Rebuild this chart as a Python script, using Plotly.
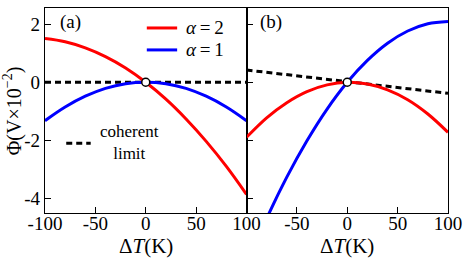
import plotly.graph_objects as go

# ---- data ----
dT = [-100, -80, -60, -40, -20, 0, 20, 40, 60, 80, 100]

# panel (a)
a_alpha2 = [1.50, 1.39, 1.18, 0.88, 0.49, 0.0, -0.58, -1.26, -2.03, -2.89, -3.85]
a_alpha1 = [-1.32, -0.85, -0.48, -0.21, -0.05, 0.0, -0.05, -0.21, -0.48, -0.85, -1.32]
a_coherent = [0.0, 0.0, 0.0, 0.0, 0.0, 0.0, 0.0, 0.0, 0.0, 0.0, 0.0]

# panel (b)
b_alpha2 = [-1.89, -1.22, -0.70, -0.32, -0.09, 0.0, -0.06, -0.26, -0.60, -1.09, -1.72]
b_alpha1 = [-6.27, -4.68, -3.26, -2.01, -0.92, 0.0, 0.75, 1.34, 1.76, 2.01, 2.09]
b_coherent = [0.42, 0.34, 0.25, 0.17, 0.08, 0.0, -0.08, -0.15, -0.23, -0.30, -0.38]

origin_x = [0]
origin_y = [0]

x_ticks = [-100, -50, 0, 50, 100]
x_ticktext_a = ["-100", "-50", "0", "50", "100"]
x_ticks_b = [-50, 0, 50, 100]
x_ticktext_b = ["-50", "0", "50", "100"]
y_ticks = [-4, -2, 0, 2]
y_ticktext = ["-4", "-2", "0", "2"]

legend_names = ["<i>α</i>\u2009=\u20092", "<i>α</i>\u2009=\u20091"]
coherent_label = "coherent<br>limit"

RED = "#ff0000"
BLUE = "#0000ff"
FONT = "Liberation Serif"

fig = go.Figure()

def add_panel(xa, ya, red, blue, coh):
    fig.add_trace(go.Scatter(x=dT, y=coh, mode="lines", xaxis=xa, yaxis=ya,
                             line=dict(color="black", width=3, dash="6px,4px"),
                             name="coherent limit", showlegend=False))
    fig.add_trace(go.Scatter(x=dT, y=blue, mode="lines", xaxis=xa, yaxis=ya,
                             line=dict(color=BLUE, width=3, shape="spline"),
                             name=legend_names[1], showlegend=False))
    fig.add_trace(go.Scatter(x=dT, y=red, mode="lines", xaxis=xa, yaxis=ya,
                             line=dict(color=RED, width=3, shape="spline"),
                             name=legend_names[0], showlegend=False))
    fig.add_trace(go.Scatter(x=origin_x, y=origin_y, mode="markers", xaxis=xa, yaxis=ya,
                             marker=dict(color="white", size=8,
                                         line=dict(color="black", width=1.5)),
                             showlegend=False, cliponaxis=False))

add_panel("x", "y", a_alpha2, a_alpha1, a_coherent)
add_panel("x2", "y2", b_alpha2, b_alpha1, b_coherent)

axis_common = dict(showline=True, linecolor="black", linewidth=1.3, mirror=True,
                   ticks="inside", ticklen=6, tickwidth=1.3, tickcolor="black",
                   showgrid=False, zeroline=False,
                   tickfont=dict(family=FONT, size=19, color="black"))

def txt(text, x, y, size=19, xanchor="left", **kw):
    return dict(text=text, xref="paper", yref="paper", x=x, y=y, xanchor=xanchor,
                yanchor="middle", showarrow=False,
                font=dict(family=FONT, size=size, color="black"), **kw)

def sample(x0, x1, y, color, dash="solid"):
    return dict(type="line", xref="paper", yref="paper", x0=x0, x1=x1, y0=y, y1=y,
                line=dict(color=color, width=3, dash=dash))

fig.update_layout(
    width=469, height=259,
    margin=dict(l=45, r=12, t=7, b=46),
    paper_bgcolor="white", plot_bgcolor="white",
    font=dict(family=FONT, size=19, color="black"),
    showlegend=False,
    xaxis=dict(domain=[0, 0.5], range=[-100, 100], tickvals=x_ticks,
               ticktext=x_ticktext_a, ticklabelstandoff=-7, **axis_common),
    xaxis2=dict(domain=[0.5, 1], range=[-100, 100], tickvals=x_ticks_b,
                ticktext=x_ticktext_b, anchor="y2", ticklabelstandoff=-7, **axis_common),
    yaxis=dict(range=[-4.49, 2.55], tickvals=y_ticks, ticktext=y_ticktext,
               **axis_common),
    yaxis2=dict(range=[-4.49, 2.55], tickvals=y_ticks, showticklabels=False,
                anchor="x2", **axis_common),
    shapes=[
        sample(0.2526, 0.3279, 0.9026, RED),
        sample(0.2526, 0.3279, 0.7955, BLUE),
        sample(0.0527, 0.1134, 0.3408, "black", "6px,4px"),
    ],
    annotations=[
        txt(legend_names[0], 0.3449, 0.9026),
        txt(legend_names[1], 0.3449, 0.7955),
        txt(coherent_label, 0.209, 0.3418, size=17, xanchor="center", align="center"),
        txt("(a)", 0.0316, 0.93),
        txt("(b)", 0.5295, 0.93),
        txt("Δ<i>T</i>(K)", 0.25, -0.162, size=21, xanchor="center"),
        txt("Δ<i>T</i>(K)", 0.75, -0.162, size=21, xanchor="center"),
        txt("Φ(V×10<sup>−2</sup>)", -0.08, 0.5, size=20, xanchor="center", textangle=-90),
    ],
)

fig.write_html("out.html", config={"displayModeBar": False},
               post_script="document.body.style.margin='0';")
